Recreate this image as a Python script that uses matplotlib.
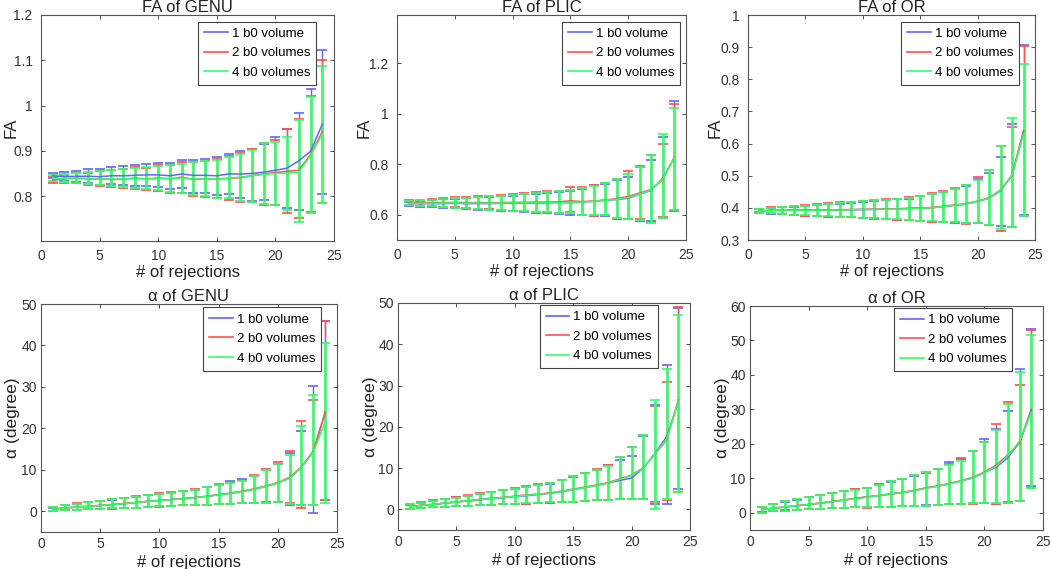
import numpy as np
import matplotlib
matplotlib.use('Agg')
import matplotlib.pyplot as plt
from matplotlib.ticker import FuncFormatter
from matplotlib.lines import Line2D

plt.rcParams['font.family'] = ['Liberation Sans', 'DejaVu Sans']

n_rej = np.arange(1, 25)
labels = ['1 b0 volume', '2 b0 volumes', '4 b0 volumes']

# ---- FA of GENU
fa_genu_b_mean = [0.845,0.843,0.844,0.844,0.843,0.845,0.845,0.846,0.847,0.847,0.845,0.849,0.846,0.846,0.845,0.849,0.849,0.850,0.853,0.857,0.862,0.878,0.899,0.959]
fa_genu_b_hi = [0.851,0.853,0.856,0.859,0.861,0.864,0.866,0.869,0.872,0.874,0.874,0.880,0.880,0.883,0.887,0.894,0.900,0.905,0.915,0.931,0.949,0.984,1.036,1.123]
fa_genu_b_lo = [0.839,0.833,0.832,0.829,0.825,0.826,0.824,0.823,0.822,0.820,0.815,0.817,0.808,0.806,0.803,0.804,0.797,0.790,0.791,0.780,0.773,0.769,0.764,0.804]
fa_genu_r_mean = [0.836,0.838,0.840,0.838,0.838,0.837,0.837,0.840,0.838,0.840,0.838,0.842,0.837,0.838,0.838,0.839,0.841,0.845,0.849,0.852,0.855,0.857,0.892,0.942]
fa_genu_r_hi = [0.843,0.847,0.852,0.852,0.856,0.857,0.859,0.864,0.863,0.868,0.869,0.876,0.876,0.878,0.882,0.888,0.895,0.904,0.918,0.925,0.949,0.970,1.022,1.101]
fa_genu_r_lo = [0.829,0.830,0.829,0.824,0.822,0.820,0.818,0.816,0.813,0.812,0.807,0.806,0.800,0.798,0.795,0.792,0.788,0.787,0.780,0.781,0.762,0.751,0.762,0.785]
fa_genu_g_mean = [0.839,0.839,0.840,0.839,0.838,0.838,0.838,0.839,0.838,0.839,0.839,0.840,0.838,0.838,0.838,0.840,0.842,0.845,0.848,0.850,0.851,0.853,0.890,0.937]
fa_genu_g_hi = [0.846,0.848,0.851,0.853,0.855,0.857,0.860,0.862,0.864,0.866,0.869,0.872,0.875,0.877,0.880,0.886,0.894,0.903,0.917,0.920,0.931,0.968,1.020,1.088]
fa_genu_g_lo = [0.833,0.832,0.830,0.827,0.825,0.822,0.820,0.818,0.815,0.813,0.810,0.808,0.803,0.800,0.797,0.795,0.790,0.788,0.783,0.780,0.770,0.744,0.762,0.786]

# ---- FA of PLIC
fa_plic_b_mean = [0.644,0.643,0.644,0.644,0.645,0.644,0.644,0.644,0.645,0.645,0.646,0.646,0.647,0.648,0.648,0.650,0.653,0.657,0.660,0.665,0.682,0.696,0.745,0.826]
fa_plic_b_hi = [0.652,0.655,0.658,0.661,0.664,0.666,0.669,0.671,0.674,0.676,0.680,0.683,0.686,0.690,0.694,0.703,0.718,0.722,0.737,0.749,0.788,0.816,0.907,1.049]
fa_plic_b_lo = [0.636,0.632,0.630,0.628,0.626,0.622,0.620,0.617,0.615,0.613,0.611,0.608,0.606,0.604,0.598,0.597,0.595,0.593,0.583,0.583,0.576,0.576,0.589,0.616]
fa_plic_r_mean = [0.648,0.648,0.648,0.648,0.649,0.648,0.648,0.648,0.648,0.649,0.649,0.650,0.650,0.651,0.655,0.652,0.654,0.658,0.664,0.672,0.686,0.700,0.740,0.828]
fa_plic_r_hi = [0.658,0.660,0.663,0.666,0.669,0.670,0.673,0.676,0.677,0.683,0.686,0.689,0.692,0.695,0.711,0.709,0.717,0.725,0.742,0.772,0.792,0.835,0.880,1.038]
fa_plic_r_lo = [0.640,0.636,0.634,0.631,0.630,0.626,0.623,0.621,0.618,0.615,0.613,0.610,0.609,0.607,0.610,0.599,0.596,0.597,0.585,0.582,0.582,0.572,0.590,0.619]
fa_plic_g_mean = [0.645,0.645,0.646,0.646,0.647,0.646,0.646,0.646,0.646,0.647,0.647,0.647,0.648,0.648,0.649,0.650,0.653,0.657,0.661,0.668,0.682,0.698,0.742,0.826]
fa_plic_g_hi = [0.655,0.657,0.660,0.663,0.666,0.668,0.671,0.673,0.675,0.678,0.682,0.684,0.688,0.693,0.697,0.707,0.715,0.724,0.740,0.762,0.790,0.835,0.920,1.022]
fa_plic_g_lo = [0.638,0.635,0.633,0.630,0.628,0.625,0.622,0.620,0.618,0.616,0.614,0.612,0.610,0.608,0.605,0.600,0.598,0.597,0.586,0.585,0.580,0.569,0.589,0.619]

# ---- FA of OR
fa_or_b_mean = [0.389,0.392,0.392,0.393,0.393,0.393,0.393,0.393,0.394,0.395,0.395,0.396,0.397,0.398,0.399,0.400,0.404,0.408,0.412,0.420,0.430,0.453,0.502,0.640]
fa_or_b_hi = [0.396,0.400,0.402,0.404,0.406,0.409,0.411,0.413,0.416,0.419,0.422,0.425,0.429,0.429,0.437,0.443,0.448,0.458,0.468,0.490,0.509,0.559,0.660,0.907]
fa_or_b_lo = [0.384,0.382,0.381,0.377,0.376,0.375,0.372,0.371,0.371,0.369,0.366,0.365,0.362,0.362,0.360,0.357,0.356,0.353,0.353,0.352,0.346,0.345,0.341,0.379]
fa_or_r_mean = [0.391,0.393,0.393,0.393,0.393,0.394,0.394,0.394,0.395,0.395,0.396,0.397,0.397,0.399,0.400,0.401,0.405,0.409,0.413,0.421,0.431,0.456,0.500,0.637]
fa_or_r_hi = [0.398,0.403,0.404,0.406,0.408,0.413,0.414,0.417,0.418,0.421,0.424,0.428,0.429,0.433,0.438,0.445,0.453,0.461,0.470,0.496,0.517,0.592,0.653,0.905]
fa_or_r_lo = [0.386,0.384,0.380,0.378,0.376,0.375,0.373,0.372,0.371,0.369,0.367,0.365,0.363,0.362,0.360,0.357,0.356,0.355,0.351,0.352,0.346,0.329,0.341,0.375]
fa_or_g_mean = [0.390,0.392,0.392,0.392,0.392,0.393,0.393,0.393,0.394,0.395,0.395,0.396,0.396,0.398,0.399,0.400,0.404,0.408,0.412,0.420,0.430,0.455,0.500,0.630]
fa_or_g_hi = [0.397,0.401,0.403,0.405,0.407,0.410,0.412,0.414,0.417,0.420,0.423,0.426,0.428,0.430,0.437,0.444,0.449,0.460,0.470,0.488,0.519,0.592,0.679,0.849]
fa_or_g_lo = [0.385,0.383,0.381,0.379,0.377,0.376,0.374,0.373,0.372,0.370,0.368,0.366,0.364,0.362,0.360,0.358,0.357,0.355,0.353,0.353,0.348,0.335,0.342,0.374]

# ---- alpha of GENU
a_genu_b_mean = [0.5,0.8,1.0,1.2,1.4,1.6,1.8,2.1,2.4,2.6,2.8,3.0,3.3,3.6,4.0,4.4,4.8,5.3,6.0,6.8,8.0,10.6,14.4,23.8]
a_genu_b_hi = [0.9,1.4,1.8,2.2,2.4,2.8,3.2,3.5,3.9,4.1,4.4,4.8,5.1,5.8,6.4,7.3,7.8,8.5,9.9,11.4,14.0,19.4,30.2,45.8]
a_genu_b_lo = [0.1,0.3,0.4,0.5,0.6,0.7,0.8,0.9,1.0,1.2,1.3,1.4,1.5,1.6,1.7,1.8,2.0,2.0,2.2,2.3,1.6,1.6,-0.4,2.6]
a_genu_r_mean = [0.5,0.8,1.0,1.2,1.4,1.6,1.9,2.1,2.4,2.6,2.8,3.1,3.3,3.6,4.0,4.3,4.8,5.4,6.1,6.9,8.2,10.7,14.5,23.9]
a_genu_r_hi = [1.0,1.6,1.9,2.2,2.5,3.0,3.3,3.6,4.0,4.3,4.6,5.0,5.3,5.9,6.5,7.0,7.6,8.7,10.1,11.8,14.6,21.8,26.9,45.8]
a_genu_r_lo = [0.1,0.3,0.4,0.5,0.6,0.6,0.8,0.9,1.0,1.1,1.2,1.4,1.5,1.6,1.7,1.8,2.0,2.0,2.1,2.3,2.0,0.8,1.6,2.6]
a_genu_g_mean = [0.5,0.8,1.0,1.2,1.4,1.6,1.8,2.1,2.4,2.6,2.8,3.0,3.3,3.6,4.0,4.3,4.7,5.3,6.0,6.8,8.0,10.6,14.3,21.5]
a_genu_g_hi = [1.0,1.5,1.8,2.2,2.4,2.9,3.2,3.5,3.9,4.2,4.5,4.8,5.2,5.8,6.4,6.8,7.4,8.6,10.0,11.3,13.6,20.6,28.0,40.7]
a_genu_g_lo = [0.1,0.3,0.4,0.5,0.6,0.7,0.8,0.9,1.0,1.2,1.3,1.4,1.5,1.6,1.7,1.8,2.0,2.0,2.1,2.2,1.8,1.4,1.5,2.0]

# ---- alpha of PLIC
a_plic_b_mean = [0.6,1.0,1.2,1.5,1.8,2.0,2.3,2.6,2.8,3.1,3.3,3.6,3.9,4.3,4.8,5.3,5.8,6.4,7.0,7.6,10.0,13.6,17.6,26.0]
a_plic_b_hi = [1.1,1.6,2.0,2.4,2.9,3.3,3.7,4.3,4.6,5.0,5.4,5.9,6.2,7.0,7.8,8.8,9.6,10.7,12.0,13.0,17.8,25.4,35.0,48.8]
a_plic_b_lo = [0.2,0.4,0.5,0.6,0.8,0.9,1.0,1.1,1.2,1.3,1.4,1.5,1.6,1.8,1.9,2.1,2.2,2.3,2.4,2.4,2.4,1.2,1.4,4.9]
a_plic_r_mean = [0.6,1.0,1.2,1.5,1.8,2.1,2.4,2.7,2.9,3.2,3.5,3.7,4.0,4.4,4.9,5.4,5.9,6.5,7.4,8.3,10.1,13.4,16.8,26.5]
a_plic_r_hi = [1.2,1.7,2.3,2.5,3.0,3.5,3.9,4.3,4.7,5.2,5.7,6.1,6.4,7.1,8.0,8.8,9.8,10.8,12.8,15.0,18.1,25.0,30.9,49.0]
a_plic_r_lo = [0.2,0.4,0.5,0.6,0.8,0.9,1.0,1.1,1.2,1.3,1.4,1.5,1.7,1.8,1.9,2.1,2.2,2.3,2.4,2.4,2.4,1.8,2.2,4.1]
a_plic_g_mean = [0.6,1.0,1.2,1.5,1.8,2.1,2.4,2.6,2.9,3.1,3.4,3.7,3.9,4.4,4.8,5.3,5.8,6.4,7.3,8.2,10.0,13.5,17.0,26.2]
a_plic_g_hi = [1.2,1.6,2.0,2.4,2.8,3.3,3.7,4.2,4.6,5.0,5.5,6.0,6.3,7.0,8.0,8.7,9.6,10.6,12.8,15.0,18.0,26.6,33.9,47.2]
a_plic_g_lo = [0.2,0.4,0.5,0.6,0.8,0.9,1.0,1.1,1.2,1.4,1.5,1.6,1.7,1.8,1.9,2.1,2.2,2.3,2.4,2.4,2.4,0.2,2.4,4.1]

# ---- alpha of OR
a_or_b_mean = [1.0,1.3,1.7,2.0,2.4,2.8,3.2,3.7,4.2,4.6,5.0,5.4,5.9,6.4,7.2,7.7,8.4,9.2,10.1,11.7,13.2,16.0,20.5,30.0]
a_or_b_hi = [1.6,2.5,3.2,3.8,4.5,5.1,5.7,6.2,6.9,7.2,8.3,9.0,9.8,10.8,11.6,12.7,14.6,15.7,17.9,21.4,24.2,29.4,41.7,53.4]
a_or_b_lo = [0.1,0.5,0.7,0.9,1.0,1.2,1.3,1.4,1.6,1.7,1.8,1.8,1.9,2.1,2.2,2.3,2.6,2.6,2.8,2.7,2.6,3.0,3.5,7.8]
a_or_r_mean = [1.0,1.3,1.7,2.1,2.4,2.8,3.3,3.7,4.2,4.6,5.0,5.5,5.9,6.5,7.2,7.8,8.5,9.3,10.3,11.8,13.8,16.8,20.2,29.5]
a_or_r_hi = [1.7,2.4,3.3,3.9,4.6,5.2,5.8,6.3,6.8,7.3,8.2,9.3,9.7,10.9,11.8,12.8,14.2,16.0,18.0,20.4,25.7,32.0,37.1,53.0]
a_or_r_lo = [0.0,0.4,0.6,0.9,1.0,1.2,1.3,1.4,1.6,1.5,1.8,1.6,1.9,2.1,2.1,2.2,2.5,2.5,2.6,2.7,2.6,2.9,3.4,7.2]
a_or_g_mean = [1.0,1.3,1.7,2.0,2.4,2.8,3.2,3.7,4.1,4.5,5.0,5.5,5.9,6.4,7.1,7.7,8.4,9.2,10.2,11.6,13.5,16.5,20.8,29.0]
a_or_g_hi = [1.7,2.4,3.3,3.9,4.6,5.2,5.8,6.3,6.7,7.3,8.2,9.2,9.7,10.9,11.7,12.8,13.8,15.0,18.0,20.4,24.0,31.6,40.8,51.5]
a_or_g_lo = [0.0,0.4,0.6,0.9,1.0,1.2,1.3,1.4,1.6,1.7,1.8,1.8,1.9,2.1,2.1,2.2,2.6,2.6,2.7,2.7,2.8,2.9,3.4,7.1]

colors = ['#6464ff', '#ff5050', '#33ff66']
bar_lw = [1.0, 1.0, 1.8]

panels = [
    ('FA of GENU', 'FA', [(fa_genu_b_mean, fa_genu_b_lo, fa_genu_b_hi), (fa_genu_r_mean, fa_genu_r_lo, fa_genu_r_hi), (fa_genu_g_mean, fa_genu_g_lo, fa_genu_g_hi)]),
    ('FA of PLIC', 'FA', [(fa_plic_b_mean, fa_plic_b_lo, fa_plic_b_hi), (fa_plic_r_mean, fa_plic_r_lo, fa_plic_r_hi), (fa_plic_g_mean, fa_plic_g_lo, fa_plic_g_hi)]),
    ('FA of OR', 'FA', [(fa_or_b_mean, fa_or_b_lo, fa_or_b_hi), (fa_or_r_mean, fa_or_r_lo, fa_or_r_hi), (fa_or_g_mean, fa_or_g_lo, fa_or_g_hi)]),
    ('\u03b1 of GENU', '\u03b1 (degree)', [(a_genu_b_mean, a_genu_b_lo, a_genu_b_hi), (a_genu_r_mean, a_genu_r_lo, a_genu_r_hi), (a_genu_g_mean, a_genu_g_lo, a_genu_g_hi)]),
    ('\u03b1 of PLIC', '\u03b1 (degree)', [(a_plic_b_mean, a_plic_b_lo, a_plic_b_hi), (a_plic_r_mean, a_plic_r_lo, a_plic_r_hi), (a_plic_g_mean, a_plic_g_lo, a_plic_g_hi)]),
    ('\u03b1 of OR', '\u03b1 (degree)', [(a_or_b_mean, a_or_b_lo, a_or_b_hi), (a_or_r_mean, a_or_r_lo, a_or_r_hi), (a_or_g_mean, a_or_g_lo, a_or_g_hi)]),
]

# axes boxes in pixels: left, top, right, bottom
boxes = [(41, 15, 334, 241), (397, 15, 686, 240), (748, 15, 1035, 240),
         (41, 304, 337, 532), (398, 303, 690, 530), (750, 306, 1043, 530)]
ylims = [(0.701, 1.2), (0.5, 1.39), (0.3, 1.0), (-5, 50), (-5, 50), (-5, 60)]
yticks = [np.arange(0.8, 1.21, 0.1), np.arange(0.6, 1.21, 0.2), np.arange(0.3, 1.01, 0.1),
          np.arange(0, 51, 10), np.arange(0, 51, 10), np.arange(0, 61, 10)]
leg_anchor = [(0.939, 0.97), (0.98, 0.97), (0.945, 0.97),
              (0.946, 0.985), (0.89, 0.99), (0.895, 0.99)]
ylab_dx = [-22, -25, -25, -20.5, -20.5, -20.5]   # pixels left of the axes
ypad = [6, 6, 6, 3, 3, 3]

W, H = 1050, 569
fig = plt.figure(figsize=(W/100, H/100), dpi=100)

for k, (title, ylab, series) in enumerate(panels):
    l, t, r, b = boxes[k]
    ax = fig.add_axes([l/W, 1 - b/H, (r-l)/W, (b-t)/H])
    for (m, lo, hi), c, blw in zip(series, colors, bar_lw):
        m = np.array(m); lo = np.array(lo); hi = np.array(hi)
        ax.errorbar(n_rej, m, yerr=[m - lo, hi - m], color=c, lw=1.1, elinewidth=blw,
                    capsize=3.5, capthick=1.2)
    ax.set_xlim(0, 25)
    ax.set_xticks(np.arange(0, 26, 5))
    ax.set_ylim(*ylims[k])
    ax.set_yticks(yticks[k])
    ax.yaxis.set_major_formatter(FuncFormatter(lambda v, p: '%g' % round(v, 3)))
    ax.tick_params(direction='in', top=True, right=True, length=3, width=0.6,
                   labelsize=10, colors='#333333')
    ax.tick_params(axis='y', pad=ypad[k])
    ax.tick_params(axis='x', pad=6 if k < 3 else 3.5)
    for sp in ax.spines.values():
        sp.set_color('#555555')
        sp.set_linewidth(0.8)
    ax.set_title(title, fontsize=12, pad=2, color='#222222')
    ax.set_xlabel('# of rejections', fontsize=12, labelpad=1 if k < 3 else 3, color='#222222')
    ax.set_ylabel(ylab, fontsize=12 if k < 3 else 12.5, color='#222222')
    ax.yaxis.set_label_coords(ylab_dx[k] / (r - l), 0.5)
    handles = [Line2D([], [], color=c, lw=1.2) for c in colors]
    leg = ax.legend(handles, labels, loc='upper right', bbox_to_anchor=leg_anchor[k],
                    borderaxespad=0, fontsize=9.5, fancybox=False, framealpha=1,
                    edgecolor='#444444', handlelength=1.8, handletextpad=0.3,
                    labelspacing=0.55, borderpad=0.45)
    leg.get_frame().set_linewidth(0.8)

fig.savefig('out.png', dpi=100)
